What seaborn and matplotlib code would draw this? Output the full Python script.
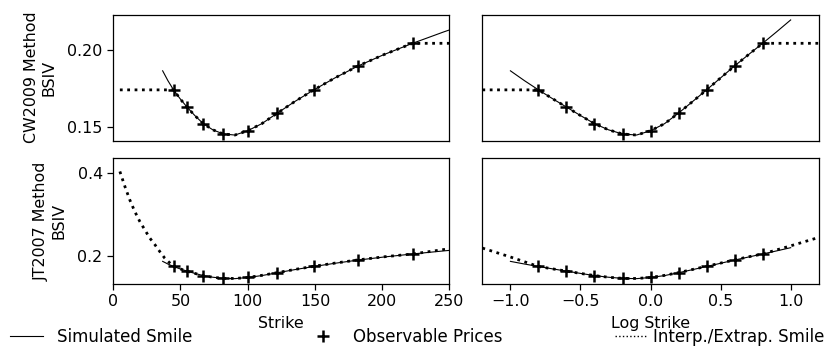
import matplotlib
matplotlib.use("Agg")
import matplotlib.pyplot as plt
from matplotlib.lines import Line2D
import seaborn as sns

# ---------------- data ----------------
# observable prices (implied vols)
obs_strike = [44.9, 54.9, 67.0, 81.9, 100.0, 122.1, 149.2, 182.2, 222.6]
obs_log_strike = [-0.8, -0.6, -0.4, -0.2, 0.0, 0.2, 0.4, 0.6, 0.8]
obs_iv = [0.1740, 0.1628, 0.1520, 0.1453, 0.1474, 0.1589, 0.1740, 0.1896, 0.2043]

# simulated smile
sim_strike = [36.8, 40.7, 44.9, 49.7, 54.9, 60.7, 67.0, 74.1, 81.9, 90.5, 100.0,
              110.5, 122.1, 135.0, 149.2, 164.9, 182.2, 201.4, 222.6, 246.0, 271.8]
sim_log_strike = [-1.0, -0.9, -0.8, -0.7, -0.6, -0.5, -0.4, -0.3, -0.2, -0.1, 0.0,
                  0.1, 0.2, 0.3, 0.4, 0.5, 0.6, 0.7, 0.8, 0.9, 1.0]
sim_iv = [0.1864, 0.1800, 0.1740, 0.1683, 0.1628, 0.1573, 0.1520, 0.1480, 0.1453, 0.1446, 0.1474,
          0.1520, 0.1589, 0.1664, 0.1740, 0.1818, 0.1896, 0.1970, 0.2043, 0.2118, 0.2195]

# CW2009 interpolated / extrapolated smile
cw_strike = [5.0, 44.9, 49.7, 54.9, 60.7, 67.0, 74.1, 81.9, 90.5, 100.0, 110.5,
             122.1, 135.0, 149.2, 164.9, 182.2, 201.4, 222.6, 250.0]
cw_log_strike = [-1.2, -0.8, -0.7, -0.6, -0.5, -0.4, -0.3, -0.2, -0.1, 0.0, 0.1,
                 0.2, 0.3, 0.4, 0.5, 0.6, 0.7, 0.8, 1.2]
cw_iv = [0.1740, 0.1740, 0.1683, 0.1628, 0.1573, 0.1520, 0.1480, 0.1453, 0.1446, 0.1474, 0.1520,
         0.1589, 0.1664, 0.1740, 0.1818, 0.1896, 0.1970, 0.2043, 0.2043]

# JT2007 interpolated / extrapolated smile
jt_strike = [5.0, 8.7, 12.4, 16.1, 19.8, 23.5, 27.2, 31.0, 34.7, 38.4, 44.9, 49.7, 54.9,
             60.7, 67.0, 74.1, 81.9, 90.5, 100.0, 110.5, 122.1, 135.0, 149.2, 164.9,
             182.2, 201.4, 222.6, 250.0]
jt_strike_iv = [0.404, 0.368, 0.335, 0.307, 0.283, 0.263, 0.243, 0.227, 0.210, 0.194, 0.1740,
                0.1683, 0.1628, 0.1573, 0.1520, 0.1480, 0.1453, 0.1450, 0.1474, 0.1525,
                0.1592, 0.1668, 0.1745, 0.1822, 0.1900, 0.1975, 0.2043, 0.2170]
jt_log_strike = [-1.2, -1.0, -0.8, -0.7, -0.6, -0.5, -0.4, -0.3, -0.2, -0.1, 0.0, 0.1,
                 0.2, 0.3, 0.4, 0.5, 0.6, 0.7, 0.8, 1.0, 1.2]
jt_log_iv = [0.2186, 0.1970, 0.1740, 0.1683, 0.1628, 0.1573, 0.1520, 0.1480, 0.1453, 0.1450,
             0.1474, 0.1525, 0.1592, 0.1668, 0.1745, 0.1822, 0.1900, 0.1975, 0.2043, 0.2240, 0.2443]

row_labels = ["CW2009 Method\nBSIV", "JT2007 Method\nBSIV"]
col_labels = ["Strike", "Log Strike"]
legend_labels = ["Simulated Smile", "Observable Prices", "Interp./Extrap. Smile"]

# ---------------- style ----------------
plt.rcParams.update({
    "font.family": ["DejaVu Sans"],
    "font.size": 11.4,
    "axes.linewidth": 0.9,
    "xtick.major.size": 4,
    "ytick.major.size": 4,
    "xtick.major.width": 0.9,
    "ytick.major.width": 0.9,
})

fig, axes = plt.subplots(2, 2, figsize=(8.32, 3.47), dpi=100, sharex="col", sharey="row")
fig.subplots_adjust(left=0.136, right=0.984, top=0.958, bottom=0.182, wspace=0.098, hspace=0.137)


def draw(ax, sx, sy, ix, iy, ox, oy):
    sns.lineplot(x=sx, y=sy, ax=ax, color="black", lw=0.8, sort=False, estimator=None)
    sns.lineplot(x=ix, y=iy, ax=ax, color="black", lw=2.0, linestyle=":", sort=False, estimator=None)
    sns.scatterplot(x=ox, y=oy, ax=ax, marker="+", color="black", s=70, linewidth=1.8, zorder=3)


draw(axes[0, 0], sim_strike, sim_iv, cw_strike, cw_iv, obs_strike, obs_iv)
draw(axes[0, 1], sim_log_strike, sim_iv, cw_log_strike, cw_iv, obs_log_strike, obs_iv)
draw(axes[1, 0], sim_strike, sim_iv, jt_strike, jt_strike_iv, obs_strike, obs_iv)
draw(axes[1, 1], sim_log_strike, sim_iv, jt_log_strike, jt_log_iv, obs_log_strike, obs_iv)

axes[1, 0].set_xlim(0, 250)
axes[1, 0].set_xticks([0, 50, 100, 150, 200, 250])
axes[1, 1].set_xlim(-1.2, 1.2)
axes[1, 1].set_xticks([-1.0, -0.5, 0.0, 0.5, 1.0])
axes[0, 0].set_ylim(0.141, 0.223)
axes[0, 0].set_yticks([0.15, 0.20])
axes[1, 0].set_ylim(0.132, 0.437)
axes[1, 0].set_yticks([0.2, 0.4])

for ax in axes[0, :]:
    ax.tick_params(axis="x", bottom=False, labelbottom=False)
for ax in axes[:, 1]:
    ax.tick_params(axis="y", left=False, labelleft=False)

for r in range(2):
    axes[r, 0].set_ylabel(row_labels[r], labelpad=8)
    axes[r, 1].set_ylabel("")
for c in range(2):
    axes[1, c].set_xlabel(col_labels[c], labelpad=5)
    axes[0, c].set_xlabel("")

handles = [
    Line2D([], [], color="black", lw=0.8),
    Line2D([], [], color="black", marker="+", ls="", ms=8.4, mew=1.8),
    Line2D([], [], color="black", ls=":", lw=1.0),
]
W = 832.0
leg_x = [10 / W, 306 / W, 615 / W]
leg_pad = [0.8, 0.8, 0.36]
leg_len = [2.0, 2.0, 1.9]
for h, lab, x0, pad, hl in zip(handles, legend_labels, leg_x, leg_pad, leg_len):
    fig.legend([h], [lab], loc="center left", bbox_to_anchor=(x0, 0.028),
               frameon=False, borderaxespad=0, borderpad=0, fontsize=12,
               handletextpad=pad, handlelength=hl)

fig.savefig("out.png", dpi=100)
